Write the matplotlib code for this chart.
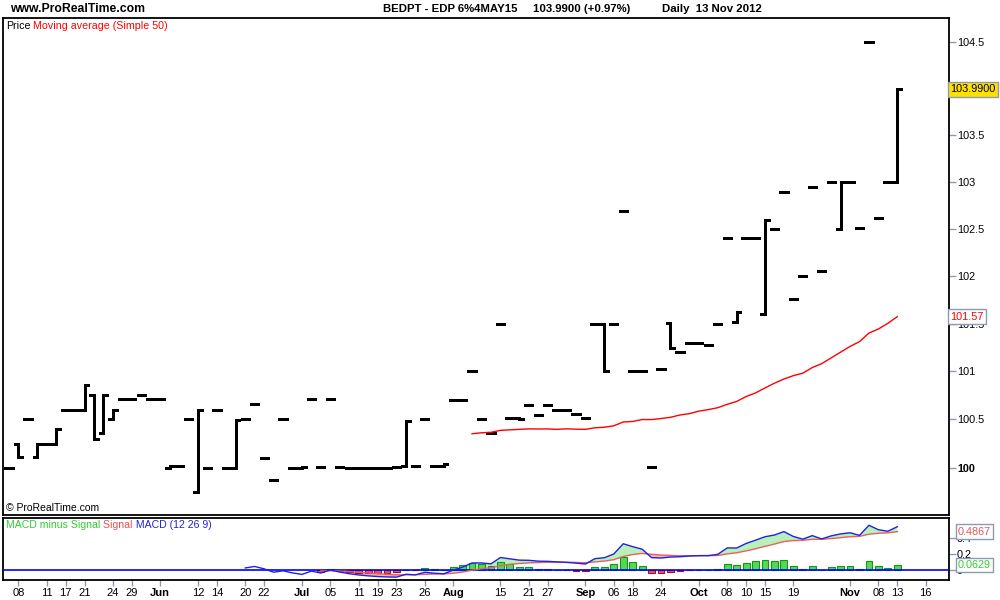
import numpy as np
import pandas as pd
import matplotlib
matplotlib.use("Agg")
import matplotlib.pyplot as plt
from matplotlib.collections import LineCollection
from matplotlib.ticker import FixedLocator, NullLocator, FixedFormatter
import matplotlib.transforms as mtransforms

plt.rcParams['font.family'] = ['Liberation Sans', 'DejaVu Sans']

# ---------------- data ----------------
opens = [100.00, 100.25, 100.50, 100.11, 100.25, 100.25, 100.60, 100.60, 100.60, 100.75,
         100.36, 100.50, 100.71, 100.71, 100.75, 100.71, 100.71, 100.00, 100.02, 100.50,
         99.75, 100.00, 100.60, 100.00, 100.00, 100.50, 100.66, 100.10, 99.87, 100.50,
         100.00, 100.00, 100.71, 100.01, 100.71, 100.01, 100.00, 100.00, 100.00, 100.00,
         100.00, 100.01, 100.02, 100.02, 100.50, 100.02, 100.02, 100.70, 100.70, 101.00,
         100.50, 100.36, 101.50, 100.52, 100.52, 100.65, 100.55, 100.65, 100.60, 100.60,
         100.56, 100.52, 101.50, 101.50, 101.50, 102.69, 101.00, 101.00, 100.01, 101.03,
         101.51, 101.20, 101.30, 101.30, 101.28, 101.50, 102.40, 101.52, 102.40, 102.40,
         101.60, 102.50, 102.89, 101.76, 102.00, 102.95, 102.05, 103.00, 102.50, 103.00,
         102.51, 104.50, 102.62, 103.00, 103.00]
closes = [100.00, 100.11, 100.50, 100.25, 100.25, 100.40, 100.60, 100.60, 100.86, 100.30,
          100.75, 100.60, 100.71, 100.71, 100.75, 100.71, 100.71, 100.02, 100.02, 100.50,
          100.60, 100.00, 100.60, 100.00, 100.49, 100.50, 100.66, 100.10, 99.87, 100.50,
          100.00, 100.01, 100.71, 100.01, 100.71, 100.01, 100.00, 100.00, 100.00, 100.00,
          100.00, 100.01, 100.48, 100.02, 100.50, 100.02, 100.035, 100.70, 100.70, 101.00,
          100.50, 100.36, 101.50, 100.52, 100.50, 100.65, 100.55, 100.65, 100.60, 100.60,
          100.56, 100.52, 101.50, 101.00, 101.50, 102.69, 101.00, 101.00, 100.01, 101.03,
          101.25, 101.20, 101.30, 101.30, 101.28, 101.50, 102.40, 101.62, 102.40, 102.40,
          102.59, 102.50, 102.89, 101.76, 102.00, 102.95, 102.05, 103.00, 103.00, 103.00,
          102.51, 104.50, 102.62, 103.00, 103.99]

x_tick_pos = [1, 4, 6, 8, 11, 13, 16, 20, 22, 25, 27, 31, 34, 37, 39, 41, 44, 47, 52, 55,
              57, 61, 64, 66, 69, 73, 76, 78, 80, 83, 89, 92, 94, 97]
x_tick_labels = ['08', '11', '17', '21', '24', '29', 'Jun', '12', '14', '20', '22', 'Jul',
                 '05', '11', '19', '23', '26', 'Aug', '15', '21', '27', 'Sep', '06', '18',
                 '24', 'Oct', '08', '10', '15', '19', 'Nov', '08', '13', '16']
month_labels = ['Jun', 'Jul', 'Aug', 'Sep', 'Oct', 'Nov']

price_ticks = [100, 100.5, 101, 101.5, 102, 102.5, 103, 103.5, 104, 104.5]
price_tick_labels = ['100', '100.5', '101', '101.5', '102', '102.5', '103', '103.5', '', '104.5']
macd_ticks = [0, 0.2, 0.4]
macd_tick_labels = ['0', '0.2', '0.4']

title_left = "www.ProRealTime.com"
title_parts = ["BEDPT - EDP 6%4MAY15", "103.9900 (+0.97%)", "Daily  13 Nov 2012"]
sma_period = 50
macd_fast, macd_slow, macd_sig = 12, 26, 9

# ---------------- indicators ----------------
o = np.array(opens)
c = np.array(closes)
idx = np.arange(len(c))
s = pd.Series(c)
sma = s.rolling(sma_period).mean()
ema_f = s.ewm(span=macd_fast, adjust=False).mean()
ema_s = s.ewm(span=macd_slow, adjust=False).mean()
macd = ema_f - ema_s
signal = macd.ewm(span=macd_sig, adjust=False).mean()
hist = macd - signal
m0 = macd_slow - 1
s0 = m0 + macd_sig - 1

# ---------------- layout ----------------
W, H = 1000, 600
fig = plt.figure(figsize=(10, 6), dpi=100)
fig.patch.set_facecolor('white')

def rect(x0, y0, x1, y1):
    return [x0 / W, 1 - y1 / H, (x1 - x0) / W, (y1 - y0) / H]

ax = fig.add_axes(rect(3, 18, 949, 515))
ax2 = fig.add_axes(rect(3, 518, 949, 580))
xlim = ((3 - 9) / 9.45, (949 - 9) / 9.45)

tick_col = '#8c9cb0'
for a in (ax, ax2):
    a.set_xlim(*xlim)
    for sp in a.spines.values():
        sp.set_color('black')
        sp.set_linewidth(1.3)
    a.yaxis.tick_right()
    a.tick_params(axis='y', which='major', direction='out', length=5, width=1,
                  color=tick_col, labelsize=7.8, pad=0.8, labelcolor='black')

# ---------------- price panel ----------------
ax.set_yscale('log')
ax.set_ylim(99.512, 104.76)
ax.yaxis.set_major_locator(FixedLocator(price_ticks))
ax.yaxis.set_major_formatter(FixedFormatter(price_tick_labels))
ax.yaxis.set_minor_locator(NullLocator())
ax.set_xticks([])
for t in ax.get_yticklabels():
    if t.get_text() == '100':
        t.set_fontweight('bold')

# OHLC bars: open tick left, close tick right, vertical between
hw = 0.49
paths = []
for i in idx:
    if o[i] == c[i]:
        paths.append([(i - hw, o[i]), (i + hw, c[i])])
    else:
        paths.append([(i - hw, o[i]), (i, o[i]), (i, c[i]), (i + hw, c[i])])
ax.add_collection(LineCollection(paths, colors='black', linewidths=2.0, capstyle='butt',
                                 joinstyle='miter', antialiaseds=False))
ax.plot(idx, sma, color='#ff0000', lw=1.0)

# legend text
t1 = ax.text(3 / 946, 1 - 8 / 497, "Price", transform=ax.transAxes, fontsize=7.7,
             va='center', ha='left', color='black')
ax.annotate(" Moving average (Simple 50)", xy=(1, 0.5), xycoords=t1, va='center',
            ha='left', fontsize=7.7, color='#ff0000')
ax.text(3 / 946, 7 / 497, "\u00a9 ProRealTime.com", transform=ax.transAxes, fontsize=7.5,
        va='center', ha='left', color='black')

trp = mtransforms.blended_transform_factory(ax.transAxes, ax.transData)
ax.text(1.0015, c[-1], f"{c[-1]:.4f}", transform=trp, fontsize=7.8, va='center', ha='left',
        color='black', clip_on=False, zorder=10,
        bbox=dict(boxstyle='square,pad=0.22', fc='#ffe000', ec='#8c9cb0', lw=1))
ax.text(1.0015, sma.iloc[-1], f"{sma.iloc[-1]:.2f}", transform=trp, fontsize=7.8,
        va='center', ha='left', color='#ff0000', clip_on=False, zorder=10,
        bbox=dict(boxstyle='square,pad=0.22', fc='white', ec='#8c9cb0', lw=1))

# ---------------- MACD panel ----------------
ax2.set_ylim(-0.127, 0.66)
ax2.yaxis.set_major_locator(FixedLocator(macd_ticks))
ax2.yaxis.set_major_formatter(FixedFormatter(macd_tick_labels))
xm = idx[s0:]
mm = macd.values[s0:]
ss = signal.values[s0:]
ax2.fill_between(xm, mm, ss, where=mm >= ss, interpolate=True, color='#b8f0b8', lw=0)
ax2.fill_between(xm, mm, ss, where=mm < ss, interpolate=True, color='#f5b4b4', lw=0)
hv = hist.values[s0:]
ax2.bar(xm, hv, width=0.72, color=np.where(hv >= 0, '#55d855', '#e85a5a'),
        edgecolor=np.where(hv >= 0, '#109a10', '#b01010'), linewidth=0.8, zorder=3)
ax2.axhline(0, color='#0000ff', lw=1.2, zorder=4)
ax2.plot(xm, ss, color='#e86060', lw=1.0, zorder=5)
ax2.plot(idx[m0:], macd.values[m0:], color='#2020e8', lw=1.0, zorder=6)

ax2.set_xticks(x_tick_pos)
ax2.set_xticklabels(x_tick_labels)
ax2.tick_params(axis='x', direction='out', length=4, width=1, color=tick_col,
                labelsize=8, pad=1.5)
for t in ax2.get_xticklabels():
    if t.get_text() in month_labels:
        t.set_fontweight('bold')

tm1 = ax2.text(3 / 946, 1 - 7 / 62, "MACD minus Signal", transform=ax2.transAxes,
               fontsize=7.6, va='center', ha='left', color='#33cc33')
tm2 = ax2.annotate(" Signal", xy=(1, 0.5), xycoords=tm1, va='center', ha='left',
                   fontsize=7.6, color='#e85050')
ax2.annotate(" MACD (12 26 9)", xy=(1, 0.5), xycoords=tm2, va='center', ha='left',
             fontsize=7.6, color='#2222dd')

trm = mtransforms.blended_transform_factory(ax2.transAxes, ax2.transData)
ax2.text(1.0095, signal.iloc[-1], f"{signal.iloc[-1]:.4f}", transform=trm, fontsize=7.8,
         va='center', ha='left', color='#e05a5a', clip_on=False, zorder=10,
         bbox=dict(boxstyle='square,pad=0.22', fc='white', ec='#8c9cb0', lw=1))
ax2.text(1.0095, hist.iloc[-1], f"{hist.iloc[-1]:.4f}", transform=trm, fontsize=7.8,
         va='center', ha='left', color='#33cc33', clip_on=False, zorder=10,
         bbox=dict(boxstyle='square,pad=0.22', fc='white', ec='#8c9cb0', lw=1))

# ---------------- titles ----------------
fig.text(10 / W, 1 - 9 / H, title_left, fontsize=8.8, fontweight='bold', va='center', ha='left')
for xp, txt in zip([383, 533, 662], title_parts):
    fig.text(xp / W, 1 - 9 / H, txt, fontsize=8.2, fontweight='bold', va='center', ha='left')

fig.savefig("out.png", dpi=100, facecolor='white')
